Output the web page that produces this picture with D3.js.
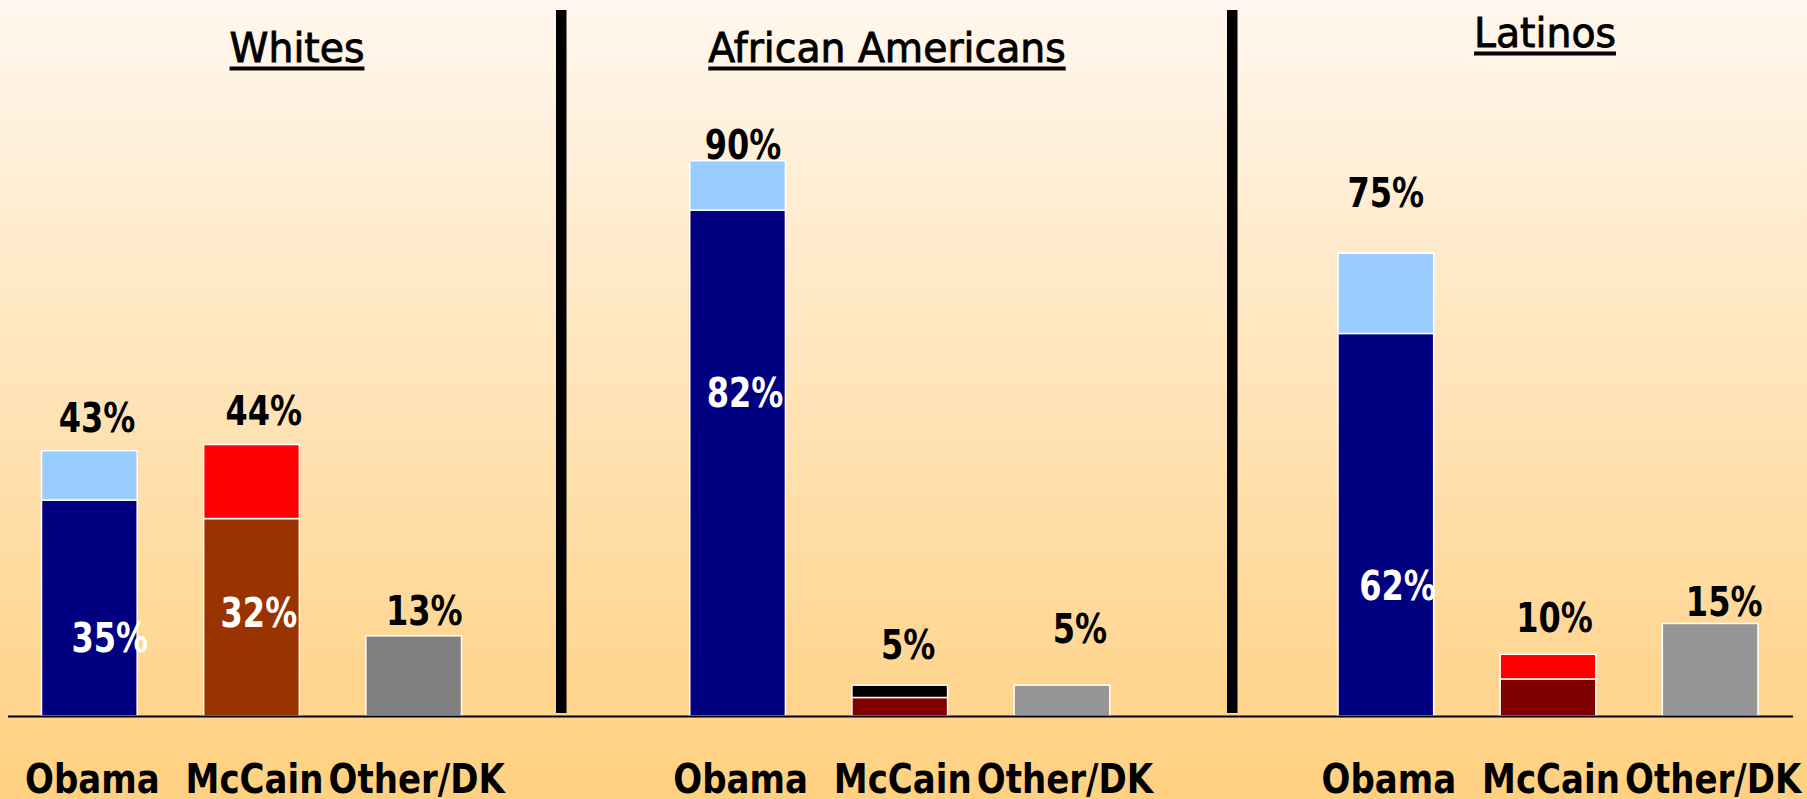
<!DOCTYPE html>
<html><head><meta charset="utf-8">
<script src="https://cdn.jsdelivr.net/npm/d3@7"></script>
<style>html,body{margin:0;padding:0;overflow:hidden;background:#fff;} svg{display:block;}</style>
</head><body>
<svg id="chart" width="1807" height="799"></svg>
<script>
// ---------- data ----------
const groups = ["Whites", "African Americans", "Latinos"];
const candidates = ["Obama", "McCain", "Other/DK"];
const obamaTotal  = [43, 90, 75];
const obamaStrong = [35, 82, 62];
const mccainTotal  = [44, 5, 10];
const mccainStrong = [32, 3, 6];
const otherTotal   = [13, 5, 15];

// ---------- styles ----------
const obamaStrongColor = "#000080";
const obamaLeanColor   = "#99CCFF";
const mccainStrongColors = ["#993300", "#800000", "#800000"];
const mccainLeanColors   = ["#FF0000", "#000000", "#FF0000"];
const otherColors        = ["#808080", "#969696", "#969696"];

// label nudges (px) relative to bar centre / bar top
const totalNudge = [
  [[7.7,-18.7],[12.2,-19.5],[10.6,-10.8]],
  [[5.5,-1.7],[8.5,-26],[18,-42]],
  [[0,-46],[6.6,-22.3],[14,-7.5]]
];
const innerNudge = [
  [[20.4,151.7],[7.4,108]],
  [[7.5,196.7],null],
  [[11.6,266.5],null]
];
const titleLayout = [{x:297,y:62},{x:887,y:62},{x:1545,y:47}];
const separatorX = [556, 1227];

const W = 1807, H = 799;
const svg = d3.select("#chart");
const defs = svg.append("defs");
const grad = defs.append("linearGradient").attr("id","bg").attr("x1",0).attr("y1",0).attr("x2",0).attr("y2",1);
grad.append("stop").attr("offset","0%").attr("stop-color","#FFF7EE");
grad.append("stop").attr("offset","100%").attr("stop-color","#FFD080");
svg.append("rect").attr("width",W).attr("height",H).attr("fill","url(#bg)");

// ---------- scales ----------
const y = d3.scaleLinear().domain([0,100]).range([716, 99]);
const xGroup = d3.scalePoint().domain(groups).range([41.5, 1338]);
const xCand = d3.scaleBand().domain(candidates).range([0, 420]).paddingInner(0.41).paddingOuter(0);
const bw = xCand.bandwidth();

// build segments
const segs = [];
const tops = [];
groups.forEach((g,i)=>{
  const x0 = xGroup(g);
  const series = [
    {c:"Obama", strong:obamaStrong[i], total:obamaTotal[i], sc:obamaStrongColor, lc:obamaLeanColor},
    {c:"McCain", strong:mccainStrong[i], total:mccainTotal[i], sc:mccainStrongColors[i], lc:mccainLeanColors[i]},
    {c:"Other/DK", strong:otherTotal[i], total:otherTotal[i], sc:otherColors[i], lc:otherColors[i]}
  ];
  series.forEach((s,j)=>{
    const x = x0 + xCand(s.c);
    segs.push({x, y0:0, y1:s.strong, color:s.sc});
    if (s.total > s.strong) segs.push({x, y0:s.strong, y1:s.total, color:s.lc});
    tops.push({gi:i, ci:j, x, cx:x+bw/2, total:s.total, strong:s.strong, c:s.c});
  });
});

svg.append("g").selectAll("rect").data(segs).join("rect")
  .attr("x", d=>d.x).attr("width", bw)
  .attr("y", d=>y(d.y1)).attr("height", d=>y(d.y0)-y(d.y1))
  .attr("fill", d=>d.color).attr("stroke","#fff").attr("stroke-width",1.5);

// separators
svg.append("g").selectAll("rect").data(separatorX).join("rect")
  .attr("x", d=>d).attr("width", 10.5).attr("y", 10).attr("height", 703).attr("fill","#000");

// baseline
svg.append("line").attr("x1",8).attr("x2",1793).attr("y1",y(0)+0.5).attr("y2",y(0)+0.5)
  .attr("stroke","#000").attr("stroke-width",1.8);

const FONT = "'DejaVu Sans', Verdana, sans-serif";
function addText(x, yy, txt, size, weight, sx, color){
  return svg.append("text")
    .attr("transform", `translate(${x},${yy}) scale(${sx},1)`)
    .attr("text-anchor","middle")
    .attr("font-family", FONT).attr("font-size", size).attr("font-weight", weight)
    .attr("fill", color).text(txt);
}

// total labels
tops.forEach(t=>{
  const n = totalNudge[t.gi][t.ci];
  addText(t.cx + n[0], y(t.total) + n[1], t.total + "%", 40, "bold", 0.8, "#000");
});
// inner labels
tops.forEach(t=>{
  const n = innerNudge[t.gi][t.ci];
  if (!n) return;
  addText(t.cx + n[0], y(t.strong) + n[1], t.strong + "%", 40, "bold", 0.8, "#fff");
});

// category labels
groups.forEach(g=>{
  candidates.forEach(c=>{
    addText(xGroup(g) + xCand(c) + bw/2 + 3, 793, c, 41, "bold", 0.83, "#000");
  });
});

// titles
groups.forEach((g,i)=>{
  const L = titleLayout[i];
  const sx = 0.96;
  const t = addText(L.x, L.y, g, 41, "normal", sx, "#000")
    .attr("stroke", "#000").attr("stroke-width", 0.9);
  const w = t.node().getComputedTextLength() * sx;
  svg.append("rect").attr("x", L.x - w/2).attr("y", L.y + 4.5).attr("width", w).attr("height", 4).attr("fill","#000");
});
</script>
</body></html>
